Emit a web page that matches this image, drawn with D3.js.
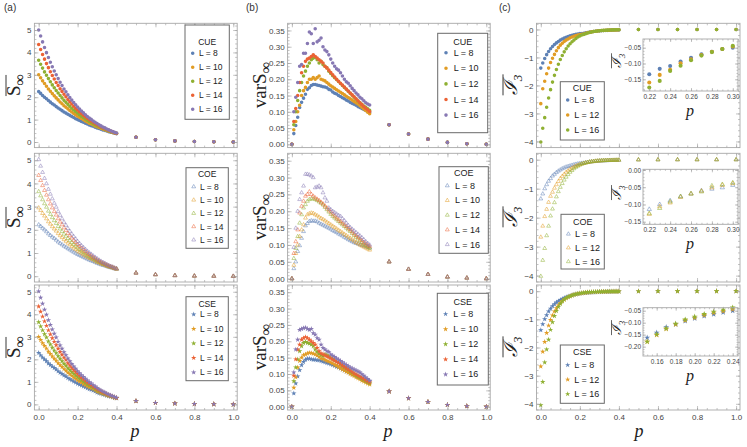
<!DOCTYPE html>
<html><head><meta charset="utf-8">
<script src="https://cdn.jsdelivr.net/npm/d3@7"></script>
<style>body{margin:0;background:#fff}</style>
</head><body>
<svg id="c" width="747" height="447"></svg>
<script>
// ---------- data ----------
const P = [0,0.01,0.02,0.03,0.04,0.05,0.06,0.07,0.08,0.09,0.1,0.11,0.12,0.13,0.14,0.15,0.16,0.17,0.18,0.19,0.2,0.21,0.22,0.23,0.24,0.25,0.26,0.27,0.28,0.29,0.3,0.31,0.32,0.33,0.34,0.35,0.36,0.37,0.38,0.39,0.4];
const PT = [0.5,0.6,0.7,0.8,0.9,1.0];
const ENS = ["CUE","COE","CSE"];
const LEG5 = ["L = 8","L = 10","L = 12","L = 14","L = 16"];
const LEG3 = ["L = 8","L = 12","L = 16"];
const COL5 = ["#5E81B5","#E19C24","#8FB032","#EB6235","#8778B3"];
const COL3 = ["#5E81B5","#E19C24","#8FB032"];
const X_TICKS = [0,0.2,0.4,0.6,0.8,1.0];
const A_TICKS = [0,1,2,3,4,5];
const B_TICKS = [0,0.05,0.1,0.15,0.2,0.25,0.3,0.35];
const C_TICKS = [0,-1,-2,-3,-4];
const IN1_X = [0.22,0.24,0.26,0.28,0.30], IN1_Y = [-0.05,-0.10,-0.15];
const IN2_X = [0.22,0.24,0.26,0.28,0.30], IN2_Y = [0,-0.05,-0.10,-0.15];
const IN3_X = [0.16,0.18,0.20,0.22,0.24], IN3_Y = [-0.05,-0.10,-0.15,-0.20];

// (a) mean S_inf
const aCUE8  = [2.25,2.17,2.08,2.00,1.93,1.85,1.78,1.71,1.65,1.58,1.52,1.46,1.40,1.34,1.29,1.24,1.19,1.14,1.09,1.04,1.00,0.96,0.92,0.88,0.84,0.80,0.76,0.73,0.70,0.66,0.63,0.60,0.57,0.54,0.52,0.49,0.46,0.44,0.42,0.39,0.37];
const aCUE10 = [3.00,2.87,2.73,2.61,2.49,2.37,2.27,2.16,2.06,1.97,1.88,1.79,1.71,1.62,1.55,1.48,1.41,1.34,1.27,1.21,1.15,1.10,1.05,0.99,0.94,0.89,0.84,0.81,0.77,0.72,0.68,0.65,0.61,0.58,0.55,0.51,0.48,0.46,0.43,0.40,0.38];
const aCUE12 = [3.65,3.47,3.30,3.13,2.98,2.83,2.69,2.55,2.42,2.30,2.19,2.08,1.97,1.86,1.77,1.68,1.60,1.51,1.43,1.36,1.29,1.22,1.15,1.09,1.03,0.97,0.92,0.87,0.82,0.77,0.73,0.69,0.65,0.61,0.58,0.54,0.50,0.47,0.45,0.41,0.39];
const aCUE14 = [4.35,4.13,3.91,3.70,3.50,3.32,3.14,2.97,2.81,2.66,2.52,2.38,2.26,2.13,2.02,1.90,1.80,1.70,1.60,1.51,1.43,1.35,1.27,1.20,1.13,1.06,1.00,0.94,0.88,0.83,0.78,0.73,0.68,0.64,0.60,0.56,0.52,0.49,0.46,0.42,0.39];
const aCUE16 = [5.00,4.73,4.47,4.22,3.99,3.77,3.56,3.36,3.17,3.00,2.83,2.67,2.52,2.37,2.24,2.11,1.99,1.87,1.76,1.66,1.56,1.47,1.38,1.30,1.22,1.14,1.07,1.01,0.94,0.88,0.83,0.77,0.72,0.67,0.63,0.58,0.54,0.50,0.47,0.43,0.40];
const aCUEt  = [0.21,0.10,0.05,0.02,0.01,0.00];
const aCOE8  = [2.22,2.15,2.07,2.00,1.92,1.83,1.76,1.69,1.63,1.56,1.48,1.42,1.36,1.30,1.25,1.19,1.14,1.09,1.04,0.99,0.94,0.90,0.86,0.82,0.78,0.74,0.70,0.67,0.64,0.60,0.56,0.53,0.50,0.47,0.45,0.42,0.39,0.37,0.35,0.32,0.30];
const aCOE10 = [2.95,2.84,2.71,2.60,2.48,2.35,2.25,2.14,2.04,1.95,1.84,1.75,1.67,1.58,1.51,1.43,1.36,1.29,1.22,1.16,1.09,1.04,0.99,0.93,0.88,0.83,0.78,0.75,0.71,0.66,0.61,0.58,0.54,0.51,0.48,0.44,0.41,0.39,0.36,0.33,0.31];
const aCOE12 = [3.65,3.47,3.30,3.13,2.98,2.81,2.67,2.53,2.40,2.28,2.15,2.04,1.93,1.82,1.73,1.63,1.55,1.46,1.38,1.31,1.23,1.16,1.09,1.03,0.97,0.91,0.86,0.81,0.76,0.71,0.66,0.62,0.58,0.54,0.51,0.47,0.43,0.40,0.38,0.34,0.32];
const aCOE14 = [4.35,4.13,3.91,3.70,3.50,3.30,3.12,2.95,2.79,2.64,2.48,2.34,2.22,2.09,1.98,1.85,1.75,1.65,1.55,1.46,1.37,1.29,1.21,1.14,1.07,1.00,0.94,0.88,0.82,0.77,0.71,0.66,0.61,0.57,0.53,0.49,0.45,0.42,0.39,0.35,0.32];
const aCOE16 = [5.03,4.75,4.48,4.22,3.99,3.75,3.54,3.34,3.15,2.98,2.79,2.63,2.48,2.33,2.20,2.06,1.94,1.82,1.71,1.61,1.50,1.41,1.32,1.24,1.16,1.08,1.01,0.95,0.88,0.82,0.76,0.70,0.65,0.60,0.56,0.51,0.47,0.43,0.40,0.36,0.33];
const aCOEt  = [0.14,0.07,0.03,0.01,0.005,0.00];
const aCSE8  = [2.29,2.18,2.08,2.00,1.92,1.82,1.75,1.68,1.62,1.55,1.47,1.41,1.35,1.29,1.24,1.17,1.12,1.07,1.02,0.97,0.92,0.88,0.84,0.80,0.76,0.72,0.68,0.65,0.62,0.58,0.53,0.50,0.47,0.44,0.42,0.39,0.36,0.34,0.32,0.29,0.27];
const aCSE10 = [3.00,2.86,2.72,2.60,2.48,2.34,2.24,2.13,2.03,1.94,1.83,1.74,1.66,1.57,1.50,1.41,1.34,1.27,1.20,1.14,1.07,1.02,0.97,0.91,0.86,0.81,0.76,0.73,0.69,0.64,0.58,0.55,0.51,0.48,0.45,0.41,0.38,0.36,0.33,0.30,0.28];
const aCSE12 = [3.65,3.46,3.29,3.12,2.97,2.80,2.66,2.52,2.39,2.27,2.14,2.03,1.92,1.81,1.72,1.61,1.53,1.44,1.36,1.29,1.21,1.14,1.07,1.01,0.95,0.89,0.84,0.79,0.74,0.69,0.63,0.59,0.55,0.51,0.48,0.44,0.40,0.37,0.35,0.31,0.29];
const aCSE14 = [4.35,4.12,3.90,3.69,3.49,3.29,3.11,2.94,2.78,2.63,2.47,2.33,2.21,2.08,1.97,1.83,1.73,1.63,1.53,1.44,1.35,1.27,1.19,1.12,1.05,0.98,0.92,0.86,0.80,0.75,0.68,0.63,0.58,0.54,0.50,0.46,0.42,0.39,0.36,0.32,0.29];
const aCSE16 = [5.02,4.74,4.47,4.21,3.98,3.74,3.53,3.33,3.14,2.97,2.78,2.62,2.47,2.32,2.19,2.04,1.92,1.80,1.69,1.59,1.48,1.39,1.30,1.22,1.14,1.06,0.99,0.93,0.86,0.80,0.73,0.67,0.62,0.57,0.53,0.48,0.44,0.40,0.37,0.33,0.30];
const aCSEt  = [0.15,0.07,0.04,0.02,0.01,0.00];

// (b) var S_inf
const bCUE8  = [0,0.033,0.058,0.083,0.113,0.129,0.142,0.154,0.169,0.174,0.181,0.184,0.184,0.182,0.181,0.179,0.177,0.176,0.174,0.169,0.167,0.161,0.157,0.155,0.150,0.147,0.143,0.140,0.136,0.133,0.129,0.126,0.123,0.120,0.116,0.113,0.110,0.107,0.104,0.101,0.099];
const bCUE10 = [0,0.045,0.07,0.10,0.12,0.15,0.165,0.175,0.19,0.20,0.20,0.205,0.20,0.205,0.21,0.20,0.198,0.195,0.19,0.185,0.18,0.176,0.172,0.168,0.164,0.160,0.156,0.152,0.148,0.144,0.140,0.136,0.132,0.128,0.124,0.119,0.114,0.109,0.104,0.099,0.094];
const bCUE12 = [0,0.06,0.10,0.135,0.165,0.19,0.21,0.225,0.24,0.25,0.26,0.265,0.268,0.26,0.25,0.255,0.245,0.24,0.235,0.225,0.218,0.211,0.205,0.199,0.193,0.187,0.181,0.175,0.169,0.163,0.157,0.151,0.145,0.139,0.133,0.128,0.123,0.118,0.114,0.109,0.105];
const bCUE14 = [0,0.07,0.11,0.15,0.19,0.22,0.24,0.255,0.262,0.265,0.27,0.275,0.27,0.265,0.26,0.255,0.25,0.24,0.235,0.228,0.221,0.214,0.207,0.200,0.194,0.188,0.182,0.176,0.170,0.164,0.158,0.152,0.146,0.140,0.134,0.128,0.122,0.116,0.111,0.106,0.101];
const bCUE16 = [0,0.10,0.145,0.19,0.24,0.245,0.28,0.28,0.31,0.345,0.34,0.31,0.355,0.315,0.32,0.327,0.30,0.29,0.285,0.275,0.262,0.25,0.24,0.232,0.228,0.22,0.21,0.20,0.192,0.188,0.18,0.172,0.165,0.158,0.152,0.145,0.14,0.134,0.128,0.124,0.121];
const bCUEt  = [0.06,0.032,0.016,0.006,0.002,0.0];
const bCOE8  = [0,0.03,0.05,0.081,0.098,0.12,0.14,0.157,0.164,0.17,0.172,0.171,0.171,0.169,0.165,0.162,0.159,0.156,0.153,0.150,0.147,0.143,0.140,0.137,0.133,0.130,0.127,0.123,0.120,0.116,0.113,0.110,0.107,0.105,0.103,0.101,0.099,0.097,0.095,0.093,0.091];
const bCOE10 = [0,0.04,0.075,0.10,0.125,0.145,0.16,0.18,0.19,0.193,0.195,0.194,0.19,0.187,0.183,0.179,0.176,0.172,0.168,0.164,0.160,0.156,0.152,0.148,0.144,0.140,0.136,0.132,0.128,0.124,0.120,0.116,0.112,0.108,0.104,0.100,0.097,0.094,0.091,0.088,0.085];
const bCOE12 = [0,0.06,0.09,0.125,0.165,0.19,0.21,0.22,0.23,0.235,0.237,0.237,0.235,0.232,0.228,0.224,0.219,0.212,0.205,0.198,0.191,0.185,0.180,0.175,0.170,0.165,0.160,0.155,0.150,0.145,0.140,0.134,0.128,0.123,0.118,0.113,0.108,0.103,0.099,0.095,0.091];
const bCOE14 = [0,0.075,0.11,0.145,0.195,0.215,0.23,0.245,0.25,0.258,0.25,0.245,0.24,0.236,0.232,0.227,0.222,0.216,0.210,0.204,0.198,0.192,0.186,0.180,0.175,0.170,0.165,0.160,0.155,0.150,0.145,0.139,0.133,0.128,0.123,0.118,0.113,0.108,0.104,0.100,0.096];
const bCOE16 = [0,0.093,0.15,0.20,0.235,0.255,0.275,0.31,0.31,0.308,0.305,0.30,0.27,0.272,0.275,0.27,0.255,0.24,0.23,0.21,0.205,0.20,0.196,0.192,0.188,0.185,0.178,0.172,0.165,0.158,0.152,0.147,0.142,0.137,0.132,0.127,0.122,0.116,0.110,0.105,0.100];
const bCOEt  = [0.05,0.028,0.013,0.005,0.002,0.0];
const bCSE8  = [0,0.041,0.071,0.093,0.112,0.127,0.137,0.144,0.147,0.147,0.145,0.144,0.144,0.142,0.142,0.140,0.138,0.136,0.134,0.132,0.130,0.128,0.125,0.122,0.120,0.117,0.114,0.111,0.108,0.106,0.103,0.101,0.098,0.096,0.093,0.091,0.088,0.086,0.084,0.081,0.079];
const bCSE10 = [0,0.058,0.09,0.12,0.14,0.15,0.158,0.16,0.163,0.165,0.164,0.162,0.16,0.157,0.152,0.148,0.146,0.143,0.140,0.138,0.135,0.132,0.128,0.125,0.121,0.118,0.114,0.111,0.107,0.104,0.100,0.097,0.094,0.090,0.087,0.084,0.080,0.077,0.074,0.071,0.068];
const bCSE12 = [0,0.078,0.12,0.145,0.17,0.185,0.195,0.198,0.195,0.193,0.19,0.185,0.175,0.168,0.162,0.158,0.155,0.16,0.158,0.155,0.15,0.146,0.142,0.138,0.134,0.130,0.125,0.121,0.117,0.113,0.108,0.104,0.100,0.096,0.092,0.089,0.085,0.082,0.078,0.075,0.072];
const bCSE14 = [0,0.095,0.145,0.175,0.19,0.205,0.21,0.213,0.21,0.205,0.20,0.195,0.19,0.18,0.17,0.163,0.160,0.157,0.154,0.151,0.148,0.144,0.141,0.137,0.134,0.130,0.126,0.122,0.118,0.114,0.110,0.106,0.102,0.099,0.095,0.092,0.088,0.085,0.081,0.078,0.075];
const bCSE16 = [0,0.105,0.175,0.205,0.235,0.238,0.24,0.242,0.238,0.235,0.238,0.225,0.22,0.21,0.205,0.19,0.18,0.175,0.17,0.168,0.16,0.156,0.152,0.148,0.144,0.140,0.136,0.132,0.128,0.124,0.12,0.117,0.114,0.111,0.108,0.105,0.100,0.095,0.090,0.085,0.080];
const bCSEt  = [0.047,0.026,0.015,0.006,0.002,0.0];

// (c) mean I3
const cCUE8  = [-1.38,-1.20,-1.04,-0.90,-0.79,-0.69,-0.61,-0.54,-0.48,-0.43,-0.38,-0.34,-0.31,-0.28,-0.25,-0.23,-0.21,-0.19,-0.17,-0.16,-0.15,-0.142,-0.134,-0.117,-0.108,-0.094,-0.082,-0.071,-0.063,-0.054,-0.050,-0.045,-0.040,-0.036,-0.032,-0.028,-0.025,-0.022,-0.020,-0.018,-0.016];
const cCUE12 = [-2.65,-2.12,-1.85,-1.58,-1.38,-1.18,-1.03,-0.89,-0.76,-0.65,-0.56,-0.49,-0.43,-0.38,-0.34,-0.30,-0.27,-0.24,-0.22,-0.20,-0.185,-0.172,-0.160,-0.136,-0.120,-0.099,-0.087,-0.073,-0.063,-0.054,-0.046,-0.040,-0.035,-0.031,-0.027,-0.024,-0.021,-0.019,-0.017,-0.015,-0.013];
const cCUE16 = [-4.02,-3.53,-3.15,-2.78,-2.45,-2.15,-1.88,-1.64,-1.43,-1.24,-1.07,-0.93,-0.80,-0.69,-0.59,-0.51,-0.44,-0.38,-0.32,-0.27,-0.23,-0.20,-0.176,-0.155,-0.124,-0.107,-0.090,-0.075,-0.064,-0.054,-0.044,-0.038,-0.033,-0.028,-0.024,-0.021,-0.018,-0.016,-0.014,-0.012,-0.010];
const cCUEt  = [-0.003,-0.001,0,0,0,0];
const cCOE8  = [-1.35,-1.18,-1.00,-0.86,-0.74,-0.65,-0.56,-0.50,-0.44,-0.39,-0.35,-0.31,-0.28,-0.25,-0.23,-0.21,-0.19,-0.17,-0.155,-0.14,-0.13,-0.12,-0.114,-0.100,-0.089,-0.077,-0.069,-0.060,-0.055,-0.051,-0.044,-0.040,-0.036,-0.033,-0.030,-0.027,-0.024,-0.022,-0.020,-0.018,-0.016];
const cCOE12 = [-2.67,-2.29,-1.96,-1.71,-1.47,-1.26,-1.12,-0.98,-0.86,-0.75,-0.65,-0.57,-0.50,-0.43,-0.38,-0.33,-0.29,-0.25,-0.22,-0.19,-0.17,-0.148,-0.128,-0.106,-0.095,-0.079,-0.069,-0.061,-0.051,-0.044,-0.039,-0.035,-0.031,-0.028,-0.025,-0.022,-0.020,-0.018,-0.016,-0.014,-0.013];
const cCOE16 = [-4.02,-3.47,-3.06,-2.62,-2.29,-1.94,-1.70,-1.48,-1.28,-1.10,-0.95,-0.82,-0.70,-0.60,-0.51,-0.43,-0.37,-0.31,-0.26,-0.22,-0.18,-0.15,-0.126,-0.111,-0.092,-0.077,-0.069,-0.063,-0.046,-0.042,-0.037,-0.033,-0.029,-0.026,-0.023,-0.020,-0.018,-0.016,-0.014,-0.012,-0.011];
const cCOEt  = [-0.003,-0.001,0,0,0,0];
const cCSE8  = [-1.38,-1.17,-0.99,-0.85,-0.72,-0.62,-0.53,-0.46,-0.40,-0.35,-0.31,-0.27,-0.24,-0.21,-0.185,-0.1625,-0.142,-0.119,-0.107,-0.093,-0.082,-0.072,-0.065,-0.057,-0.050,-0.045,-0.040,-0.036,-0.032,-0.029,-0.026,-0.023,-0.021,-0.019,-0.017,-0.015,-0.013,-0.012,-0.011,-0.010,-0.009];
const cCSE12 = [-2.67,-2.15,-1.80,-1.48,-1.22,-1.02,-0.86,-0.72,-0.60,-0.50,-0.42,-0.35,-0.30,-0.25,-0.21,-0.179,-0.151,-0.126,-0.107,-0.090,-0.079,-0.068,-0.058,-0.051,-0.044,-0.039,-0.034,-0.030,-0.027,-0.024,-0.021,-0.019,-0.017,-0.015,-0.013,-0.012,-0.011,-0.010,-0.009,-0.008,-0.007];
const cCSE16 = [-4.05,-3.22,-2.53,-2.07,-1.72,-1.37,-1.10,-0.88,-0.70,-0.56,-0.45,-0.36,-0.29,-0.24,-0.20,-0.179,-0.149,-0.124,-0.104,-0.087,-0.075,-0.064,-0.054,-0.046,-0.037,-0.032,-0.028,-0.025,-0.022,-0.019,-0.017,-0.015,-0.013,-0.012,-0.010,-0.009,-0.008,-0.007,-0.006,-0.005,-0.005];
const cCSEt  = [-0.003,-0.001,0,0,0,0];

// ---------- layout ----------
const COLS = [{x0:34.4,x1:237.2},{x0:287.6,x1:490.2},{x0:536.5,x1:740}];
const ROWS = [{y0:23.3,y1:147.6},{y0:153.3,y1:282},{y0:285,y1:410}];
const XD = [-0.022,1.02];
const SHAPES = ["circle","tri","star"];
const FRAME = "#a8a8a8", TICKC = "#9a9a9a", LABC = "#444";
const SANS = "Liberation Sans, Arial, sans-serif";
const SERIF = "Liberation Serif, DejaVu Serif, serif";

const svg = d3.select("#c");
svg.append("rect").attr("width",747).attr("height",447).attr("fill","#fff");

function rng(a,b,s){ const out=[]; const n=Math.round((b-a)/s); for(let i=0;i<=n;i++) out.push(+(a+i*s).toFixed(4)); return out; }

function symPath(shape, big){
  const t = shape==="circle"?d3.symbolCircle:shape==="tri"?d3.symbolTriangle:d3.symbolStar;
  const s = shape==="circle"?(big?13:10):shape==="tri"?(big?8:6.5):(big?11:9);
  return d3.symbol().type(t).size(s)();
}
function styleMark(sel, shape, color){
  if(shape==="tri") sel.attr("fill","none").attr("stroke",color).attr("stroke-width",0.6).attr("stroke-opacity",0.85);
  else sel.attr("fill",color);
}

function axes(g, x, y, o){
  const [yb, yt] = y.range(); const [xl, xr] = x.range();
  const M = o.maj||4, m = o.min||2;
  const add = (ax, tr) => g.append("g").attr("transform", tr).call(ax);
  add(d3.axisBottom(x).tickValues(o.xm).tickSize(-m).tickSizeOuter(0).tickFormat(""), `translate(0,${yb})`);
  add(d3.axisBottom(x).tickValues(o.xt).tickSize(-M).tickSizeOuter(0).tickPadding(o.xpad||4).tickFormat(o.showX?o.xf:""), `translate(0,${yb})`);
  add(d3.axisTop(x).tickValues(o.xm).tickSize(-m).tickSizeOuter(0).tickFormat(""), `translate(0,${yt})`);
  add(d3.axisTop(x).tickValues(o.xt).tickSize(-M).tickSizeOuter(0).tickFormat(""), `translate(0,${yt})`);
  add(d3.axisLeft(y).tickValues(o.ym).tickSize(-m).tickSizeOuter(0).tickFormat(""), `translate(${xl},0)`);
  add(d3.axisLeft(y).tickValues(o.yt).tickSize(-M).tickSizeOuter(0).tickPadding(o.ypad||3).tickFormat(o.yf), `translate(${xl},0)`);
  add(d3.axisRight(y).tickValues(o.ym).tickSize(-m).tickSizeOuter(0).tickFormat(""), `translate(${xr},0)`);
  add(d3.axisRight(y).tickValues(o.yt).tickSize(-M).tickSizeOuter(0).tickFormat(""), `translate(${xr},0)`);
  g.selectAll(".domain").remove();
  g.selectAll(".tick line").attr("stroke",TICKC).attr("stroke-width",0.6);
  g.selectAll(".tick text").attr("fill",LABC).attr("font-family",SANS).attr("font-size",o.fs||8);
  g.append("rect").attr("x",xl).attr("y",yt).attr("width",xr-xl).attr("height",yb-yt)
    .attr("fill","none").attr("stroke",FRAME).attr("stroke-width",0.9);
}

function drawPoints(g, x, y, ps, vals, shape, color, big, filt){
  let pts = d3.zip(ps, vals);
  if(filt) pts = pts.filter(filt);
  const sel = g.append("g").selectAll("path").data(pts).join("path")
    .attr("d", symPath(shape, big))
    .attr("transform", d => `translate(${x(d[0])},${y(d[1])})`);
  styleMark(sel, shape, color);
}

function legend(L){
  const g = svg.append("g");
  g.append("rect").attr("x",L.x0).attr("y",L.y0).attr("width",L.x1-L.x0).attr("height",L.y1-L.y0)
    .attr("fill","#fff").attr("stroke","#6a6a6a").attr("stroke-width",1);
  g.append("text").attr("x",(L.x0+L.x1)/2).attr("y",L.ty).attr("text-anchor","middle").attr("dominant-baseline","central")
    .attr("font-family",SANS).attr("font-size",L.fs).attr("fill","#222").text(L.title);
  L.labels.forEach((lab,i)=>{
    const yy = L.ey + i*L.es;
    const p = g.append("path").attr("d",symPath(L.shape,false)).attr("transform",`translate(${L.x0+L.mx},${yy})`);
    styleMark(p, L.shape, L.colors[i]);
    g.append("text").attr("x",L.x0+L.tx).attr("y",yy).attr("dominant-baseline","central")
      .attr("font-family",SANS).attr("font-size",L.fs).attr("fill","#222").text(lab);
  });
}

function ylab(cx, cy, parts, fs, over){
  const g = svg.append("g").attr("transform",`translate(${cx},${cy}) rotate(-90)`);
  const t = g.append("text").attr("text-anchor","middle").attr("font-family",SERIF).attr("font-size",fs).attr("fill","#222");
  parts.forEach(pt=>{
    const s = t.append("tspan").text(pt.t);
    if(pt.it) s.attr("font-style","italic");
    if(pt.sub) s.attr("font-size",fs*pt.sub).attr("dy",fs*0.28);
    if(pt.ff) s.attr("font-family",pt.ff);
  });
  if(over){
    const bb = t.node().getBBox();
    g.append("line").attr("x1",bb.x+over.l).attr("x2",bb.x+bb.width-over.r).attr("y1",bb.y+over.d).attr("y2",bb.y+over.d)
      .attr("stroke","#222").attr("stroke-width",over.w||0.9);
  }
}

// ---------- panels ----------
const A_SER = [[aCUE8,aCUE10,aCUE12,aCUE14,aCUE16,aCUEt],[aCOE8,aCOE10,aCOE12,aCOE14,aCOE16,aCOEt],[aCSE8,aCSE10,aCSE12,aCSE14,aCSE16,aCSEt]];
const B_SER = [[bCUE8,bCUE10,bCUE12,bCUE14,bCUE16,bCUEt],[bCOE8,bCOE10,bCOE12,bCOE14,bCOE16,bCOEt],[bCSE8,bCSE10,bCSE12,bCSE14,bCSE16,bCSEt]];
const C_SER = [[cCUE8,cCUE12,cCUE16,cCUEt],[cCOE8,cCOE12,cCOE16,cCOEt],[cCSE8,cCSE12,cCSE16,cCSEt]];

const colCfg = [
  {yd:[-0.25,5.3], yt:A_TICKS, ym:rng(0,5.2,0.2), yf:d3.format("d"), ser:A_SER, n:5, colors:COL5},
  {yd:[-0.01,0.372], yt:B_TICKS, ym:rng(0,0.37,0.01), yf:d3.format(".2f"), ser:B_SER, n:5, colors:COL5},
  {yd:[-4.22,0.22], yt:C_TICKS, ym:rng(-4.2,0.2,0.2), yf:d3.format("d"), ser:C_SER, n:3, colors:COL3}
];
const PALL = P.concat(PT);

colCfg.forEach((cc, ci)=>{
  ROWS.forEach((r, ri)=>{
    const x = d3.scaleLinear().domain(XD).range([COLS[ci].x0, COLS[ci].x1]);
    const y = d3.scaleLinear().domain(cc.yd).range([r.y1, r.y0]);
    const g = svg.append("g");
    const shape = SHAPES[ri];
    const ser = cc.ser[ri];
    const tail = ser[cc.n];
    for(let k=0;k<cc.n;k++){
      drawPoints(g, x, y, PALL, ser[k].concat(tail), shape, cc.colors[k], false);
    }
    axes(g, x, y, {xt:X_TICKS, xm:rng(0,1,0.05), yt:cc.yt, ym:cc.ym, yf:cc.yf, showX: ri===2, xf:d3.format(".1f"), fs:8});
  });
});

// ---------- insets in column (c) ----------
const INSETS = [
  {x0:643,x1:738,y0:39,y1:91, xd:[0.214,0.305], yd:[-0.187,-0.0225], xt:IN1_X, yt:IN1_Y, xm:rng(0.215,0.305,0.005), ym:rng(-0.18,-0.03,0.01)},
  {x0:643,x1:738,y0:169.3,y1:224.3, xd:[0.214,0.305], yd:[-0.1575,0.002], xt:IN2_X, yt:IN2_Y, xm:rng(0.215,0.305,0.005), ym:rng(-0.15,0,0.01)},
  {x0:643,x1:738,y0:307.7,y1:356, xd:[0.1456,0.2456], yd:[-0.239,-0.0375], xt:IN3_X, yt:IN3_Y, xm:rng(0.15,0.245,0.005), ym:rng(-0.23,-0.04,0.01)}
];
INSETS.forEach((ins, ri)=>{
  const g = svg.append("g");
  g.append("rect").attr("x",ins.x0).attr("y",ins.y0).attr("width",ins.x1-ins.x0).attr("height",ins.y1-ins.y0).attr("fill","#fff");
  const x = d3.scaleLinear().domain(ins.xd).range([ins.x0, ins.x1]);
  const y = d3.scaleLinear().domain(ins.yd).range([ins.y1, ins.y0]);
  const ser = C_SER[ri];
  for(let k=0;k<3;k++){
    drawPoints(g, x, y, P, ser[k], SHAPES[ri], COL3[k], true, d => d[0]>=ins.xd[0] && d[0]<=ins.xd[1]);
  }
  axes(g, x, y, {xt:ins.xt, xm:ins.xm, yt:ins.yt, ym:ins.ym, yf:d3.format(".2f"), showX:true, xf:d3.format(".2f"), fs:6.5, maj:3, min:1.5, xpad:3, ypad:2});
  ylab(621, (ins.y0+ins.y1)/2 - 4, [{t:"ℐ", it:true},{t:"3", sub:0.7, it:true}], 13, {l:0,r:0,d:2.5,w:0.7});
  svg.append("text").attr("x",690).attr("y",ins.y1+25).attr("text-anchor","middle").attr("font-family",SERIF)
    .attr("font-style","italic").attr("font-size",16).attr("fill","#222").text("p");
});

// ---------- legends ----------
const LEGS = [
  {x0:185,y0:25,x1:229.3,y1:119.3, ty:41.7, ey:53.3, es:14, mx:7.7, tx:14, fs:8.5},
  {x0:186,y0:167.7,x1:228.3,y1:248.3, ty:174.3, ey:186.7, es:13.3, mx:7.7, tx:14, fs:8.5},
  {x0:186,y0:296.7,x1:228.3,y1:380.7, ty:304, ey:314.3, es:14.5, mx:7.7, tx:14, fs:8.5},
  {x0:437.7,y0:33.3,x1:487.7,y1:132.7, ty:41.7, ey:52.7, es:15.6, mx:8.3, tx:16, fs:9},
  {x0:439,y0:166.7,x1:488.3,y1:253.3, ty:173.3, ey:185.7, es:14.7, mx:8.3, tx:16, fs:9},
  {x0:437.3,y0:293.3,x1:488.3,y1:385, ty:301.7, ey:314, es:15.1, mx:8.3, tx:16, fs:9},
  {x0:560.3,y0:81.7,x1:604.3,y1:140, ty:88.3, ey:100, es:15, mx:7.4, tx:14, fs:9},
  {x0:561,y0:214.3,x1:604.3,y1:269, ty:221.7, ey:234, es:13.8, mx:7.4, tx:14, fs:9},
  {x0:560.3,y0:345,x1:604.3,y1:403.3, ty:351.7, ey:365, es:14.5, mx:7.4, tx:14, fs:9}
];
LEGS.forEach((L, i)=>{
  const ci = Math.floor(i/3), ri = i%3;
  L.title = ENS[ri]; L.shape = SHAPES[ri];
  L.labels = ci===2 ? LEG3 : LEG5;
  L.colors = ci===2 ? COL3 : COL5;
  legend(L);
});

// ---------- axis titles ----------
const RC = [85, 217, 347];
RC.forEach(cy=>{
  ylab(20, cy, [{t:"S", it:false},{t:"∞", sub:0.85}], 19, {l:0,r:1,d:3,w:0.9});
  ylab(266, cy, [{t:"var"},{t:"S"},{t:"∞", sub:0.85}], 19, null);
  ylab(517, cy, [{t:"ℐ", it:true},{t:"3", sub:0.7, it:true}], 19, {l:0,r:0,d:3,w:0.9});
});
[135, 388, 639].forEach(cx=>{
  svg.append("text").attr("x",cx).attr("y",437).attr("text-anchor","middle").attr("font-family",SERIF)
    .attr("font-style","italic").attr("font-size",18).attr("fill","#222").text("p");
});
[["(a)",4],["(b)",246],["(c)",499]].forEach(([t,x])=>{
  svg.append("text").attr("x",x).attr("y",11).attr("font-family",SANS).attr("font-size",10).attr("fill","#333").text(t);
});
</script>
</body></html>
